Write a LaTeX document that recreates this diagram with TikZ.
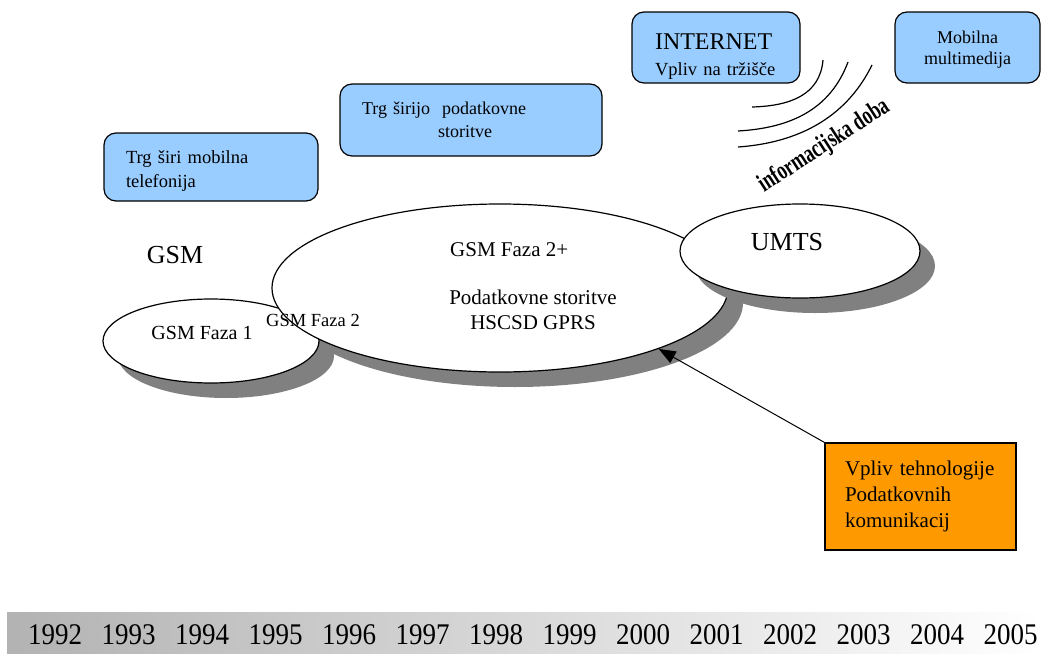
\documentclass[tikz,border=0pt]{standalone}
\usepackage{fontspec}
\setmainfont{Liberation Serif}
\usetikzlibrary{shapes.geometric,arrows.meta,positioning}

\definecolor{boxblue}{HTML}{99CCFF}
\definecolor{boxorange}{HTML}{FF9900}
\definecolor{shadowgray}{HTML}{808080}
\newcommand{\fsz}[2]{\fontsize{#1}{#2}\selectfont}

\begin{document}
\begin{tikzpicture}[x=1pt,y=-1pt,
	infobox/.style={draw, line width=1.2pt, rounded corners=12pt, fill=boxblue, inner ysep=0pt},
	phase/.style={ellipse, draw, line width=1.2pt, fill=white, inner sep=0pt},
	phaseshadow/.style={ellipse, fill=shadowgray, inner sep=0pt},
	phaselbl/.style={inner sep=0pt},
	yearlbl/.style={font=\fsz{30}{36}, inner sep=0pt}]

	\useasboundingbox (0,0) rectangle (1041,653);

	% Time line at the bottom
	\shade[left color=gray!60, right color=white] (7,612) rectangle (1041,653);
	\foreach \yr [count=\i from 0] in {1992,...,2005} {
		\node[yearlbl] (y\yr) at ({55+73.5*\i},635) {\scalebox{0.9}[1]{\yr}};
	}

	% Shadows of the phases
	\node[phaseshadow, minimum width=216pt, minimum height=84pt] (f1shadow) at (226,356) {};
	\node[phaseshadow, minimum width=456pt, minimum height=168pt] (f2shadow) at (515,303) {};

	% GSM phases
	\node[phase, minimum width=216pt, minimum height=84pt] (faza1) at (211,341) {};
	\node[phase, minimum width=456pt, minimum height=168pt] (faza2) at (500,288) {};

	% UMTS
	\node[phaseshadow, minimum width=240pt, minimum height=94pt] (umtsshadow) at (815,266) {};
	\node[phase, minimum width=240pt, minimum height=94pt] (umts) at (800,251) {};

	% Labels of the phases
	\node[phaselbl, font=\fsz{26}{30}] (gsm) at (175,255) {GSM};
	\node[phaselbl, font=\fsz{20}{24}] (faza1lbl) at (202,333) {GSM Faza 1};
	\node[phaselbl, font=\fsz{18.5}{22}] (faza2lbl) at (313,320) {GSM Faza 2};
	\node[phaselbl, font=\fsz{21}{25}, anchor=west] (faza2plbl) at (450,250) {GSM Faza 2+};
	\node[phaselbl, font=\fsz{21}{25}, align=center] (datalbl) at (533,309.5) {Podatkovne storitve\\HSCSD GPRS};
	\node[phaselbl, font=\fsz{26}{30}] (umtslbl) at (787,242) {UMTS};

	% Market boxes
	\node[infobox, minimum width=214pt, minimum height=68pt, text width=170pt, inner xsep=22pt,
		align=left, font=\fsz{18.5}{24}] (mobtel) at (211,167) {\rule{0pt}{21pt}Trg širi mobilna\\telefonija};
	\node[infobox, minimum width=262pt, minimum height=72pt, text width=218pt, inner xsep=22pt,
		align=left, font=\fsz{18}{23}] (datamkt) at (471,120) {Trg širijo\ \ podatkovne\\\hspace*{76pt}storitve};
	\node[infobox, minimum width=168pt, minimum height=71pt, text width=122pt, inner xsep=23pt,
		align=left, font=\fsz{18.5}{26}] (internet) at (716,47.5) {\rule{0pt}{34pt}{\fsz{24}{26}INTERNET}\\Vpliv na tržišče};
	\node[infobox, minimum width=145pt, minimum height=71pt, align=center,
		font=\fsz{18}{21}] (multimed) at (967.5,47.5) {\rule{0pt}{17pt}Mobilna\\multimedija};

	% Waves of the information age
	\draw[line width=1.2pt] (823,60) .. controls (820,95) and (790,106) .. (752,107);
	\draw[line width=1.2pt] (848,62) .. controls (830,110) and (790,128) .. (738,131);
	\draw[line width=1.2pt] (872,65) .. controls (845,120) and (795,143) .. (738,147);
	\node[rotate=33, font=\fsz{26}{26}\bfseries, inner sep=0pt] (infoage) at (824,146) {\scalebox{0.7}[1]{informacijska doba}};

	% Technology impact
	\node[draw, line width=1.2pt, fill=boxorange, minimum width=191pt, minimum height=107pt,
		text width=151pt, inner xsep=20pt, align=left, font=\fsz{21}{26}] (impact) at (920.5,496.5)
		{Vpliv tehnologije\\Podatkovnih\\komunikacij};
	\draw[-{Triangle[length=17pt,width=13pt]}, line width=1pt] (impact.north west) -- (faza2.-21);
\end{tikzpicture}
\end{document}
